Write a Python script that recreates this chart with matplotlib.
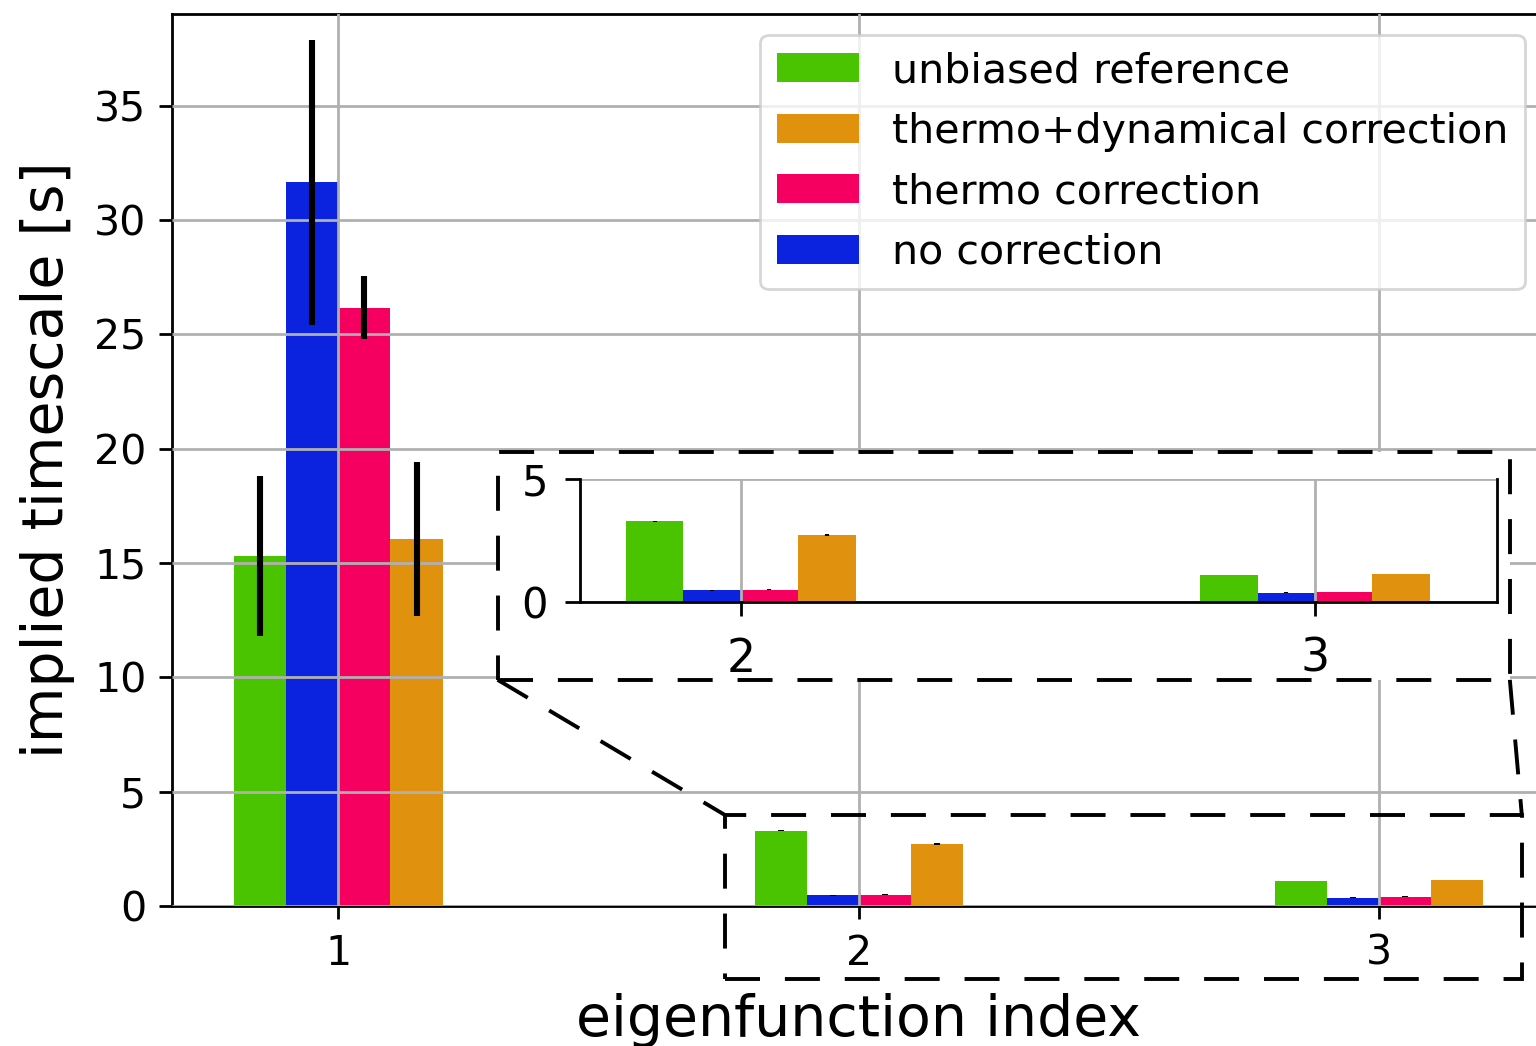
import numpy as np
import matplotlib
matplotlib.use("Agg")
import matplotlib.pyplot as plt
from matplotlib.patches import Rectangle, Patch
from matplotlib.lines import Line2D

# --- data -------------------------------------------------------------
eig_index = [1, 2, 3]
series_labels = ["unbiased reference", "no correction",
                 "thermo correction", "thermo+dynamical correction"]
unbiased = [15.3, 3.29, 1.10]
unbiased_err = [3.5, 0.02, 0.01]
no_corr = [31.65, 0.47, 0.37]
no_corr_err = [6.23, 0.01, 0.02]
thermo = [26.15, 0.50, 0.41]
thermo_err = [1.38, 0.01, 0.01]
thermo_dyn = [16.05, 2.72, 1.14]
thermo_dyn_err = [3.37, 0.03, 0.01]
legend_order = ["unbiased reference", "thermo+dynamical correction",
                "thermo correction", "no correction"]

colors = {
    "unbiased reference": "#4AC300",
    "no correction": "#0B22DE",
    "thermo correction": "#F50060",
    "thermo+dynamical correction": "#E0910E",
}

values = [unbiased, no_corr, thermo, thermo_dyn]
errors = [unbiased_err, no_corr_err, thermo_err, thermo_dyn_err]
offsets = [-0.15, -0.05, 0.05, 0.15]
width = 0.1

FS_TICK = 14.8
FS_LABEL = 20.5

fig = plt.figure(figsize=(7.68, 5.23), dpi=200)
ax = fig.add_axes([0.112, 0.1338, 0.894, 0.8528])

x = np.array(eig_index, dtype=float)
for lab, val, err, off in zip(series_labels, values, errors, offsets):
    ax.bar(x + off, val, width, color=colors[lab], zorder=1)
    ax.errorbar(x + off, val, yerr=err, fmt="none", ecolor="black",
                elinewidth=2.2, capsize=0, zorder=3)

ax.set_xlim(0.68, 3.32)
ax.set_ylim(0, 39)
ax.set_xticks(eig_index)
ax.set_yticks(np.arange(0, 40, 5))
ax.grid(True, color="#b0b0b0", linewidth=1.0)
ax.set_axisbelow(False)
for sp in ax.spines.values():
    sp.set_linewidth(1.0)
ax.tick_params(labelsize=FS_TICK, length=4.7, width=1.0)
ax.tick_params(axis="y", pad=4.5)
ax.tick_params(axis="x", pad=5.2)
ax.set_xlabel("eigenfunction index", fontsize=FS_LABEL, labelpad=7)
ax.set_ylabel("implied timescale [s]", fontsize=FS_LABEL, labelpad=7)

handles = [Patch(facecolor=colors[l], label=l) for l in legend_order]
ax.legend(handles=handles, loc="upper right", fontsize=FS_TICK)

# zoom indicator boxes (main-axes data coordinates)
dash = (0, (9, 6.4))
lw_box = 1.4
outer = Rectangle((1.306, 9.89), 3.252 - 1.306, 19.86 - 9.89,
                  facecolor="white", edgecolor="black", linewidth=lw_box,
                  linestyle=dash, transform=ax.transData, clip_on=False,
                  zorder=4)
ax.add_patch(outer)
inner = Rectangle((1.743, -3.19), 3.275 - 1.743, 3.98 + 3.19,
                  facecolor="none", edgecolor="black", linewidth=lw_box,
                  linestyle=dash, transform=ax.transData, clip_on=False,
                  zorder=4)
ax.add_patch(inner)
for (x0, y0), (x1, y1) in [((1.306, 9.89), (1.743, 3.98)),
                           ((3.252, 9.89), (3.275, 3.98))]:
    ax.add_line(Line2D([x0, x1], [y0, y1], color="black", linewidth=lw_box,
                       linestyle=dash, clip_on=False, zorder=4))

# inset with eigenfunctions 2 and 3
axin = fig.add_axes([0.3776, 0.4245, 0.5970, 0.1176])
for lab, val, err, off in zip(series_labels, values, errors, offsets):
    axin.bar(x + off, val, width, color=colors[lab], zorder=1)
    axin.errorbar(x + off, val, yerr=err, fmt="none", ecolor="black",
                  elinewidth=1.5, capsize=0, zorder=3)
axin.set_xlim(1.72, 3.317)
axin.set_ylim(0, 5)
axin.set_xticks([2, 3])
axin.set_yticks([0, 5])
axin.grid(True, color="#b0b0b0", linewidth=1.0)
axin.spines["top"].set_visible(False)
for sp in ["left", "right", "bottom"]:
    axin.spines[sp].set_linewidth(1.0)
axin.tick_params(axis="y", labelsize=15, length=5.5, width=1.0, pad=6)
axin.tick_params(axis="x", labelsize=16.5, length=5.0, width=1.0, pad=7.5)

fig.savefig("out.png", dpi=200)
